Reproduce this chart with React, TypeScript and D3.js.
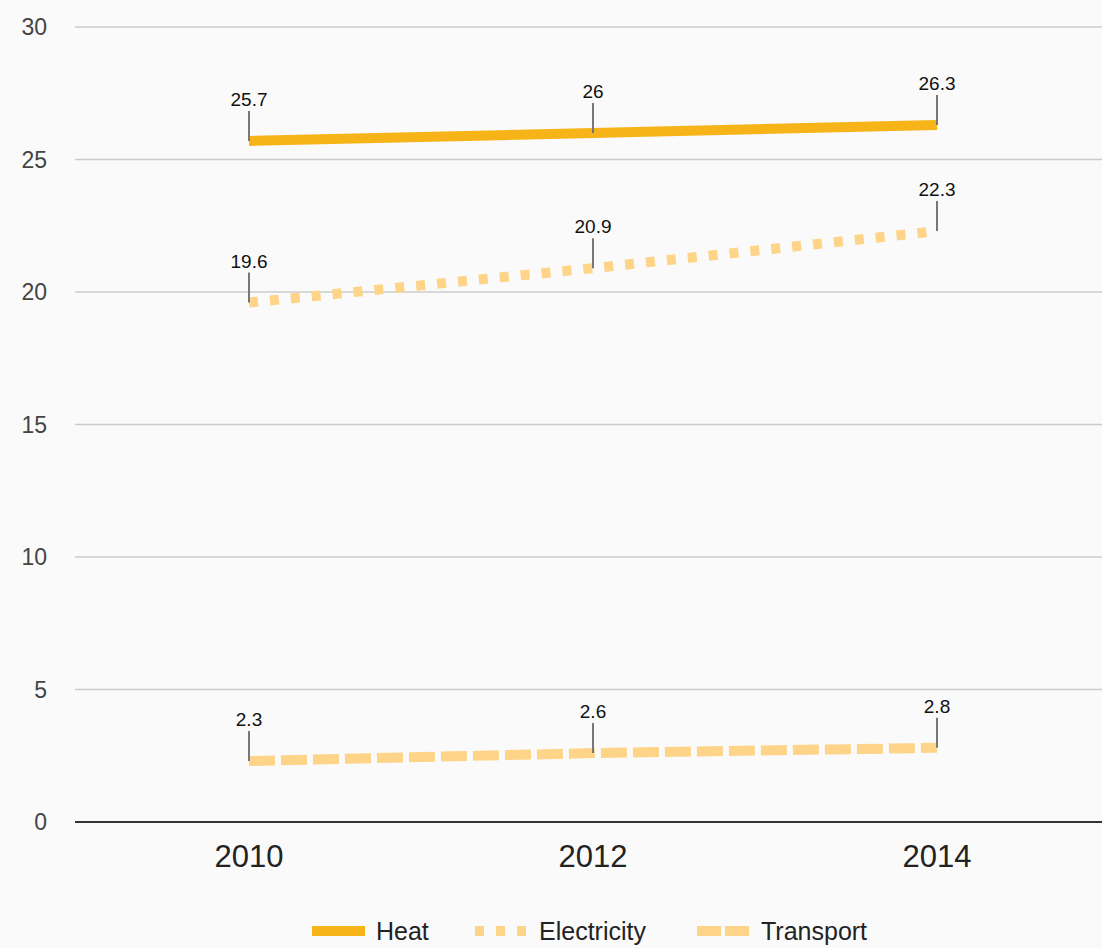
import React from 'react'
import * as d3 from 'd3'

const width = 1102
const height = 948

const years = ['2010', '2012', '2014']
const heat = [25.7, 26, 26.3]
const electricity = [19.6, 20.9, 22.3]
const transport = [2.3, 2.6, 2.8]
const yTicks = [0, 5, 10, 15, 20, 25, 30]

const seriesList = [
  { name: 'Heat', values: heat, color: '#f7b418', dash: 'none', cap: 'butt' },
  { name: 'Electricity', values: electricity, color: '#fdd488', dash: '9,12', cap: 'butt' },
  { name: 'Transport', values: transport, color: '#fdd488', dash: '26,6', cap: 'butt' },
]

const legendX = [312, 475, 697]

const App = () => {
  const xScale = d3.scalePoint<string>().domain(years).range([77, 1109]).padding(0.5)
  const yScale = d3.scaleLinear().domain([0, 30]).range([822, 27])
  const line = d3.line<number>()
    .x((d, i) => xScale(years[i]) as number)
    .y(d => yScale(d))

  return (
    <svg width={width} height={height} style={{ position: 'absolute', left: 0, top: 0, background: '#fafafa' }}
      fontFamily="'Liberation Sans', Arial, sans-serif">
      <rect x={0} y={0} width={width} height={height} fill="#fafafa" />
      {yTicks.map(t =>
        <g key={t}>
          {t > 0 && <line x1={75} x2={width} y1={yScale(t)} y2={yScale(t)} stroke="#cccccc" strokeWidth={1.5} />}
          <text x={47} y={yScale(t)} dy="0.35em" textAnchor="end" fontSize={23} fill="#444">{t}</text>
        </g>
      )}
      <line x1={75} x2={width} y1={yScale(0)} y2={yScale(0)} stroke="#333" strokeWidth={2} />
      {years.map(y =>
        <text key={y} x={xScale(y)} y={867} textAnchor="middle" fontSize={31} fill="#222">{y}</text>
      )}
      {seriesList.map(s =>
        <path key={s.name} d={line(s.values) || ''} fill="none" stroke={s.color} strokeWidth={10}
          strokeDasharray={s.dash} strokeLinecap={s.cap as any} />
      )}
      {seriesList.map(s =>
        s.values.map((v, i) => {
          const x = xScale(years[i]) as number
          const y = yScale(v)
          return (
            <g key={s.name + i}>
              <line x1={x} x2={x} y1={y} y2={y - 30} stroke="#777" strokeWidth={2} />
              <text x={x} y={y - 35} textAnchor="middle" fontSize={19} fill="#111">{v}</text>
            </g>
          )
        })
      )}
      {seriesList.map((s, i) =>
        <g key={s.name} transform={`translate(${legendX[i]},931)`}>
          <line x1={0} x2={53} y1={0} y2={0} stroke={s.color} strokeWidth={10} strokeDasharray={s.dash === '26,6' ? '24,4' : s.dash} />
          <text x={64} y={0} dy="0.36em" fontSize={25} fill="#222">{s.name}</text>
        </g>
      )}
    </svg>
  )
}

export default App
